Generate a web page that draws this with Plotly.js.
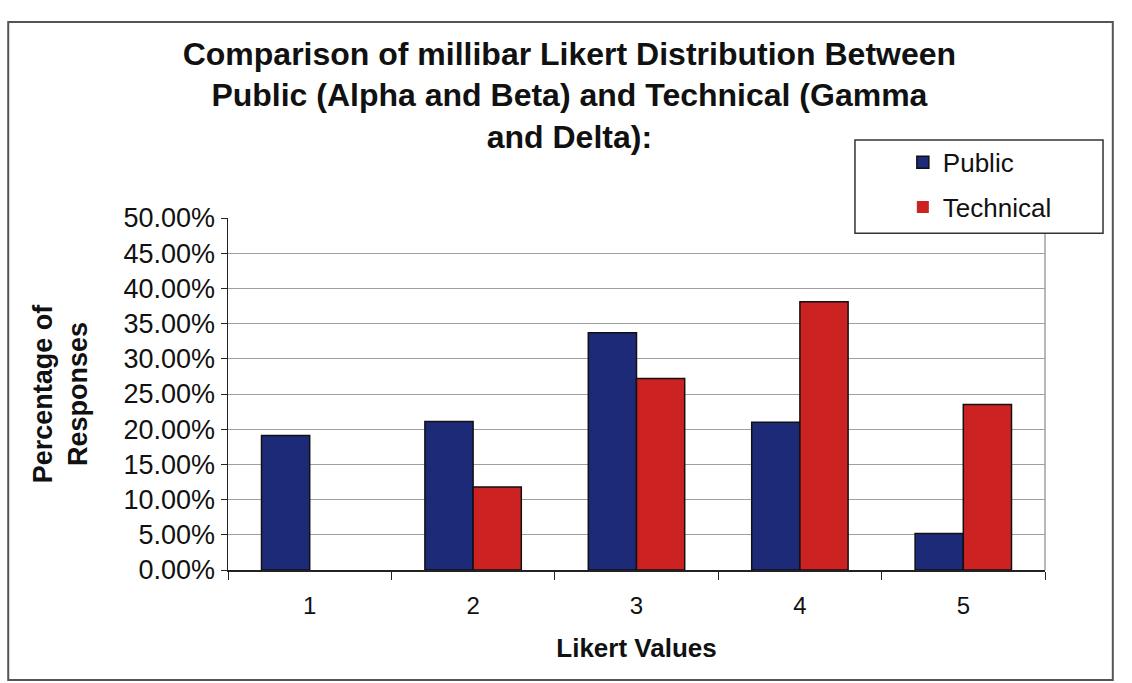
<!DOCTYPE html>
<html>
<head>
<meta charset="utf-8">
<script src="https://cdn.plot.ly/plotly-3.0.1.min.js"></script>
<style>
  html, body { margin: 0; padding: 0; background: #ffffff; }
  #chart { width: 1132px; height: 683px; }
</style>
</head>
<body>
<div id="chart"></div>
<script>
// Data
const categories = ["1", "2", "3", "4", "5"];
const publicValues = [19.1, 21.1, 33.7, 21.0, 5.2];
const technicalValues = [0, 11.8, 27.2, 38.1, 23.5];
const yTicks = [0, 5, 10, 15, 20, 25, 30, 35, 40, 45, 50];
const yTickLabels = ["0.00%", "5.00%", "10.00%", "15.00%", "20.00%", "25.00%", "30.00%", "35.00%", "40.00%", "45.00%", "50.00%"];

const FONT = "Liberation Sans, Arial, sans-serif";
const outline = v => (v > 0 ? 1.5 : 0);

const traces = [
  {
    type: "bar",
    name: "Public",
    x: categories,
    y: publicValues,
    legendgroup: "a",
    marker: { color: "#1c2a78", line: { color: "#111111", width: publicValues.map(outline) } }
  },
  {
    type: "bar",
    name: "Technical",
    x: categories,
    y: technicalValues,
    legendgroup: "b",
    marker: { color: "#cc2222", line: { color: "#111111", width: technicalValues.map(outline) } }
  }
];

const layout = {
  width: 1132,
  height: 683,
  paper_bgcolor: "#ffffff",
  plot_bgcolor: "#ffffff",
  margin: { l: 228, r: 87, t: 218, b: 113 },
  barmode: "group",
  bargap: 0.41,
  bargroupgap: 0,
  font: { family: FONT, color: "#111111" },
  title: {
    text: "<b>Comparison of millibar Likert Distribution Between<br>Public (Alpha and Beta) and Technical (Gamma<br>and Delta):</b>",
    font: { family: FONT, size: 32, color: "#111111" },
    x: 0.503,
    xanchor: "center",
    xref: "container",
    y: 0.905,
    yref: "container",
    yanchor: "top"
  },
  xaxis: {
    type: "category",
    showgrid: false,
    showline: true,
    linecolor: "#222222",
    linewidth: 1.5,
    ticks: "outside",
    tickson: "boundaries",
    ticklen: 8,
    tickcolor: "#222222",
    ticklabelstandoff: 14,
    tickfont: { family: FONT, size: 24, color: "#111111" },
    title: {
      text: "<b>Likert Values</b>",
      font: { family: FONT, size: 26, color: "#111111" },
      standoff: 20
    }
  },
  yaxis: {
    range: [0, 50],
    tickmode: "array",
    tickvals: yTicks,
    ticktext: yTickLabels,
    showgrid: true,
    gridcolor: "#a0a0a0",
    gridwidth: 1,
    zeroline: false,
    showline: true,
    linecolor: "#222222",
    linewidth: 1.5,
    ticks: "outside",
    ticklen: 6,
    tickcolor: "#222222",
    tickfont: { family: FONT, size: 27, color: "#111111" },
    title: {
      text: "<b>Percentage of<br>Responses</b>",
      font: { family: FONT, size: 27, color: "#111111" },
      standoff: 28
    }
  },
  showlegend: true,
  legend: {
    x: 0.826,
    xanchor: "left",
    y: 1.225,
    yanchor: "top",
    bgcolor: "rgba(0,0,0,0)",
    borderwidth: 0,
    font: { family: FONT, size: 26, color: "#111111" },
    traceorder: "grouped",
    tracegroupgap: 8,
    itemwidth: 30
  },
  shapes: [
    {
      type: "line", xref: "paper", yref: "paper",
      x0: 1, x1: 1, y0: 0, y1: 1,
      line: { color: "#a0a0a0", width: 1.5 }
    },
    {
      type: "rect", xref: "paper", yref: "paper", layer: "above",
      x0: 0.7674, x1: 1.071, y0: 0.957, y1: 1.2216,
      line: { color: "#333333", width: 1.5 },
      fillcolor: "#ffffff"
    },
    {
      type: "rect", xref: "paper", yref: "paper",
      x0: -0.269, x1: 1.083, y0: -0.3125, y1: 1.557,
      line: { color: "#555555", width: 2 },
      fillcolor: "rgba(0,0,0,0)"
    }
  ]
};

Plotly.newPlot("chart", traces, layout, { displayModeBar: false, staticPlot: true });
</script>
</body>
</html>
